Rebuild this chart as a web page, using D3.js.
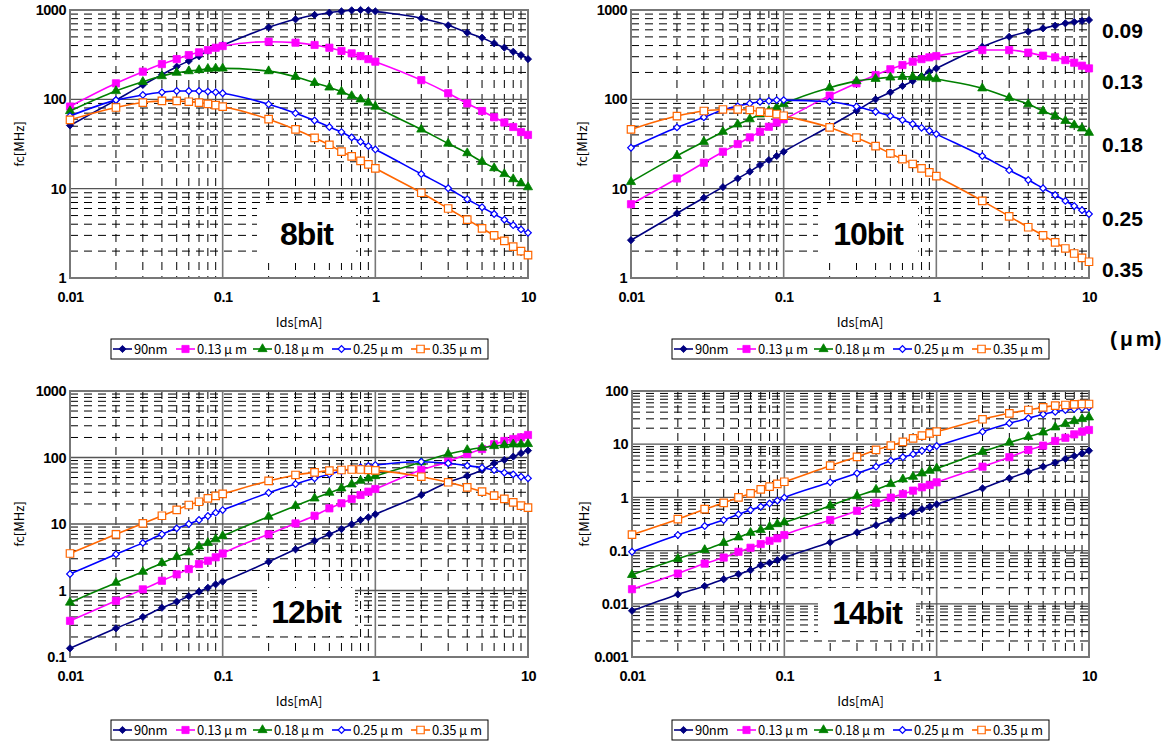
<!DOCTYPE html>
<html>
<head>
<meta charset="utf-8">
<script src="https://cdn.jsdelivr.net/npm/d3@7"></script>
<style>
  body { margin: 0; background: #fff; }
  svg { display: block; }
</style>
</head>
<body>
<svg id="chart" width="1164" height="744"></svg>
<script>
// Ids [mA] sample points (same for every panel)
const ids = [0.01, 0.02, 0.03, 0.04, 0.05, 0.06, 0.07, 0.08, 0.09,
  0.1, 0.2, 0.3, 0.4, 0.5, 0.6, 0.7, 0.8, 0.9,
  1, 2, 3, 4, 5, 6, 7, 8, 9, 10];

const seriesNames = ["90nm", "0.13\u03BCm", "0.18\u03BCm", "0.25\u03BCm", "0.35\u03BCm"];
const sideLabels = ["0.09", "0.13", "0.18", "0.25", "0.35"];
const xTickLabels = [0.01, 0.1, 1, 10];

// fc [MHz], 8bit
const fc8_90 = [51, 98, 145, 189, 232, 269, 305, 350, 378, 406, 640, 787, 880, 933, 966, 992, 1000, 992, 966, 807, 674, 557, 490, 424, 379, 341, 313, 282];
const fc8_13 = [83, 151, 204, 248, 282, 313, 336, 356, 378, 395, 442, 431, 406, 378, 348, 327, 305, 282, 264, 164, 117, 90, 74, 63, 55, 49, 43, 40];
const fc8_18 = [74, 124, 157, 182, 199, 207, 213, 220, 222, 222, 207, 179, 153, 136, 122, 109, 100, 92, 83, 46, 32, 25, 20, 17, 14.6, 12.8, 11.5, 10.4];
const fc8_25 = [65, 98, 112, 120, 124, 124, 124, 122, 120, 117, 88, 70, 58, 49, 43, 37.5, 33.5, 30, 27.5, 14.6, 10.1, 7.6, 6.2, 5.2, 4.5, 3.9, 3.5, 3.2];
const fc8_35 = [59, 81, 92, 96, 96, 94, 92, 89, 86, 83, 60, 46, 37, 31, 26, 23, 20.5, 18.7, 16.9, 9.0, 6.0, 4.5, 3.6, 3.0, 2.6, 2.25, 2.0, 1.8];

// fc [MHz], 10bit
const fc10_90 = [2.65, 5.3, 7.9, 10.4, 13, 15.5, 18.4, 20.9, 23.2, 25.9, 50, 74.5, 100, 120, 141, 160, 182, 204, 222, 388, 502, 572, 624, 667, 710, 735, 754, 773];
const fc10_13 = [6.7, 13, 19.5, 25.9, 31.6, 37.5, 43.4, 49.3, 55, 59.7, 110, 151, 187, 217, 242, 264, 282, 295, 305, 356, 356, 333, 308, 295, 275, 257, 238, 222];
const fc10_18 = [11.9, 23.3, 33.5, 43.4, 52.5, 60, 68, 74.5, 81, 88.5, 135, 160, 170, 176, 179, 179, 176, 175, 169, 133, 104, 88.5, 74, 65, 57.5, 51.5, 47.3, 42.3];
const fc10_25 = [28.7, 48.5, 63, 76, 84, 90, 94, 96, 98, 98, 94, 83, 72.6, 65, 58.6, 53, 48, 44.5, 40.8, 23.2, 16.1, 12.5, 10.1, 8.5, 7.3, 6.4, 5.75, 5.2];
const fc10_35 = [46, 65, 74, 77, 77, 76, 72.6, 70.8, 68.5, 65.5, 48.5, 37.2, 30, 24.8, 21.4, 18.9, 16.9, 15.2, 13.8, 7.3, 4.9, 3.7, 3.0, 2.5, 2.14, 1.88, 1.68, 1.52];

// fc [MHz], 12bit
const fc12_90 = [0.135, 0.27, 0.40, 0.55, 0.68, 0.82, 0.96, 1.10, 1.24, 1.36, 2.71, 4.16, 5.6, 7.0, 8.4, 9.9, 11.5, 12.6, 14.0, 27.3, 42.4, 53, 65, 82, 92, 103, 116, 127];
const fc12_13 = [0.35, 0.70, 1.04, 1.40, 1.75, 2.1, 2.5, 2.8, 3.16, 3.6, 7.0, 10.2, 13.3, 17.2, 20.5, 23.8, 27.3, 30.6, 33.6, 65, 86.5, 113, 134, 158, 177, 190, 201, 218];
const fc12_18 = [0.66, 1.31, 1.92, 2.6, 3.2, 3.75, 4.6, 5.2, 5.9, 6.6, 12.9, 18.7, 24.3, 29.6, 34.4, 39.5, 44.8, 48.6, 52.7, 85, 113, 130, 141, 149, 154, 158, 158, 160];
const fc12_25 = [1.77, 3.5, 5.2, 7.0, 8.6, 10, 11.5, 13.2, 14.8, 16.2, 29.6, 40, 48.6, 55.8, 62.7, 67.1, 71.3, 74.5, 77, 86.5, 81.8, 75.4, 70.3, 64.9, 59.2, 55.8, 51.4, 48.6];
const fc12_35 = [3.6, 7.0, 10.2, 13.3, 16.3, 19.3, 21.6, 24.3, 26.4, 28.3, 44.4, 54.6, 59.8, 63.4, 64.9, 66, 66, 65, 64, 51.4, 42.4, 35.6, 30.6, 26.7, 23.8, 21.2, 18.9, 17.6];

// fc [MHz], 14bit
const fc14_90 = [0.0074, 0.015, 0.0216, 0.029, 0.036, 0.043, 0.053, 0.059, 0.066, 0.074, 0.143, 0.22, 0.30, 0.376, 0.45, 0.52, 0.60, 0.67, 0.74, 1.48, 2.29, 3.04, 3.78, 4.5, 5.3, 6.0, 6.7, 7.55];
const fc14_13 = [0.0188, 0.037, 0.057, 0.074, 0.095, 0.113, 0.133, 0.153, 0.17, 0.196, 0.376, 0.56, 0.79, 0.99, 1.16, 1.34, 1.55, 1.71, 1.92, 3.78, 5.7, 7.8, 9.4, 11.5, 13.2, 15.3, 17.2, 18.5];
const fc14_18 = [0.035, 0.07, 0.103, 0.14, 0.178, 0.217, 0.244, 0.28, 0.316, 0.34, 0.70, 1.06, 1.40, 1.79, 2.19, 2.45, 2.84, 3.18, 3.52, 7.2, 10.7, 13.8, 16.7, 20.8, 24, 27.3, 29.8, 32];
const fc14_25 = [0.095, 0.196, 0.29, 0.375, 0.48, 0.58, 0.67, 0.77, 0.87, 0.99, 1.92, 2.84, 3.78, 4.9, 5.7, 6.5, 7.55, 8.4, 9.25, 17.2, 24.7, 30.7, 36.5, 40.8, 44, 46, 48, 50];
const fc14_35 = [0.20, 0.39, 0.60, 0.79, 1.0, 1.19, 1.42, 1.59, 1.79, 1.97, 3.95, 5.8, 7.8, 9.4, 11.1, 12.9, 14.5, 16.0, 17.2, 29.4, 38.1, 44, 49.3, 53, 54.6, 56, 57, 57];

// ---- styling ----
const colors = ["#000080", "#ff00ff", "#008000", "#0000ff", "#ff6600"];
const markers = [
  { type: d3.symbolSquare, size: 26, rotate: 45, fill: true },
  { type: d3.symbolSquare, size: 52, rotate: 0, fill: true },
  { type: d3.symbolTriangle, size: 36, rotate: 0, fill: true },
  { type: d3.symbolSquare, size: 22, rotate: 45, fill: false },
  { type: d3.symbolSquare, size: 56, rotate: 0, fill: false }
];

const panels = [
  { title: "8bit", left: 70, top: 10, w: 458, h: 268, yDomain: [1, 1000],
    series: [fc8_90, fc8_13, fc8_18, fc8_25, fc8_35],
    box: [257, 205, 356, 263], yLabelX: 19, legendX: 111, legendY: 339 },
  { title: "10bit", left: 631, top: 10, w: 458, h: 268, yDomain: [1, 1000],
    series: [fc10_90, fc10_13, fc10_18, fc10_25, fc10_35],
    box: [818, 205, 918, 263], yLabelX: 582, legendX: 672, legendY: 339 },
  { title: "12bit", left: 70, top: 391, w: 458, h: 266, yDomain: [0.1, 1000],
    series: [fc12_90, fc12_13, fc12_18, fc12_25, fc12_35],
    box: [257, 588, 355, 636], yLabelX: 19, legendX: 111, legendY: 720 },
  { title: "14bit", left: 632, top: 391, w: 457, h: 266, yDomain: [0.001, 100],
    series: [fc14_90, fc14_13, fc14_18, fc14_25, fc14_35],
    box: [818, 588, 916, 637], yLabelX: 584, legendX: 672, legendY: 720 }
];

const svg = d3.select("#chart");
const numFmt = d3.format("~g");
const isDecade = v => Math.abs(Math.log10(v) - Math.round(Math.log10(v))) < 1e-6;

// writes "0.13μm" with the wide spacing of the full-width mu
function muText(sel, str, gap) {
  const parts = str.split("\u03BC");
  sel.append("tspan").text(parts[0]);
  if (parts.length > 1) {
    sel.append("tspan").attr("dx", gap).text("\u03BC");
    sel.append("tspan").attr("dx", gap).text(parts[1]);
  }
}

function drawPanel(p) {
  const g = svg.append("g").attr("transform", "translate(" + p.left + "," + p.top + ")");

  const x = d3.scaleLog().domain([0.01, 10]).range([0, p.w]);
  const y = d3.scaleLog().domain(p.yDomain).range([p.h, 0]);

  // grid
  const xt = x.ticks(), yt = y.ticks();
  g.selectAll(".vminor").data(xt.filter(d => !isDecade(d))).enter().append("line")
    .attr("x1", d => x(d)).attr("x2", d => x(d)).attr("y1", 0).attr("y2", p.h)
    .attr("stroke", "#000").attr("stroke-width", 1).attr("stroke-dasharray", "8,6");
  g.selectAll(".hminor").data(yt.filter(d => !isDecade(d))).enter().append("line")
    .attr("y1", d => y(d)).attr("y2", d => y(d)).attr("x1", 0).attr("x2", p.w)
    .attr("stroke", "#000").attr("stroke-width", 1).attr("stroke-dasharray", "8,6");
  g.selectAll(".vmajor").data(xt.filter(isDecade)).enter().append("line")
    .attr("x1", d => x(d)).attr("x2", d => x(d)).attr("y1", 0).attr("y2", p.h)
    .attr("stroke", "#777").attr("stroke-width", 1.6);
  g.selectAll(".hmajor").data(yt.filter(isDecade)).enter().append("line")
    .attr("y1", d => y(d)).attr("y2", d => y(d)).attr("x1", 0).attr("x2", p.w)
    .attr("stroke", "#555").attr("stroke-width", 1.3);

  // title box (covers the grid)
  g.append("rect")
    .attr("x", p.box[0] - p.left).attr("y", p.box[1] - p.top)
    .attr("width", p.box[2] - p.box[0]).attr("height", p.box[3] - p.box[1])
    .attr("fill", "#fff");
  g.append("text")
    .attr("x", (p.box[0] + p.box[2]) / 2 - p.left)
    .attr("y", (p.box[1] + p.box[3]) / 2 - p.top + 11)
    .attr("text-anchor", "middle")
    .attr("font-family", "Liberation Sans, Arial, sans-serif")
    .attr("font-weight", "bold").attr("font-size", 32).attr("letter-spacing", -1)
    .text(p.title);

  // frame
  g.append("rect").attr("width", p.w).attr("height", p.h)
    .attr("fill", "none").attr("stroke", "#777").attr("stroke-width", 2);

  // series
  const line = d3.line().x(d => x(d[0])).y(d => y(d[1])).curve(d3.curveMonotoneX);
  p.series.forEach((vals, i) => {
    const pts = ids.map((v, k) => [v, vals[k]]);
    g.append("path").datum(pts).attr("d", line)
      .attr("fill", "none").attr("stroke", colors[i]).attr("stroke-width", 1.6);
    const m = markers[i];
    g.selectAll(".m" + i).data(pts).enter().append("path")
      .attr("d", d3.symbol().type(m.type).size(m.size)())
      .attr("transform", d => "translate(" + x(d[0]) + "," + y(d[1]) + ") rotate(" + m.rotate + ")")
      .attr("fill", m.fill ? colors[i] : "#fff")
      .attr("stroke", colors[i]).attr("stroke-width", m.fill ? 0.8 : 1.2);
  });

  // axes
  const xAxis = g.append("g").attr("transform", "translate(0," + p.h + ")")
    .call(d3.axisBottom(x).tickValues(xTickLabels).tickFormat(numFmt).tickSize(0).tickPadding(14));
  const yAxis = g.append("g")
    .call(d3.axisLeft(y).tickValues(yt.filter(isDecade)).tickFormat(numFmt).tickSize(0).tickPadding(4));
  [xAxis, yAxis].forEach(a => {
    a.select(".domain").remove();
    a.selectAll("text")
      .attr("font-family", "Liberation Sans, Arial, sans-serif")
      .attr("font-size", 14.5).attr("font-weight", "bold").attr("fill", "#000")
      .attr("letter-spacing", -0.5);
  });

  // axis titles
  g.append("text")
    .attr("x", p.w / 2).attr("y", p.h + 49)
    .attr("text-anchor", "middle")
    .attr("font-family", "Noto Sans CJK JP, sans-serif").attr("font-size", 13)
    .text("Ids[mA]");
  svg.append("text")
    .attr("transform", "translate(" + p.yLabelX + "," + (p.top + p.h / 2) + ") rotate(-90)")
    .attr("text-anchor", "middle").attr("dy", "0.35em")
    .attr("font-family", "Noto Sans CJK JP, sans-serif").attr("font-size", 13)
    .text("fc[MHz]");

  // legend
  const lg = svg.append("g").attr("transform", "translate(" + p.legendX + "," + p.legendY + ")");
  lg.append("rect").attr("width", 377).attr("height", 20)
    .attr("fill", "#fff").attr("stroke", "#000").attr("stroke-width", 1);
  const entryX = [2, 65, 142, 221, 300];
  seriesNames.forEach((name, i) => {
    const eg = lg.append("g").attr("transform", "translate(" + entryX[i] + ",10)");
    eg.append("line").attr("x1", 0).attr("x2", 19)
      .attr("stroke", colors[i]).attr("stroke-width", 1.6);
    const m = markers[i];
    eg.append("path")
      .attr("d", d3.symbol().type(m.type).size(m.size)())
      .attr("transform", "translate(9.5,0) rotate(" + m.rotate + ")")
      .attr("fill", m.fill ? colors[i] : "#fff")
      .attr("stroke", colors[i]).attr("stroke-width", m.fill ? 0.8 : 1.2);
    const t = eg.append("text").attr("x", 21).attr("y", 5)
      .attr("font-family", "Noto Sans CJK JP, sans-serif").attr("font-size", 13)
      .attr("letter-spacing", -0.3);
    muText(t, name, 3);
  });
}

panels.forEach(drawPanel);

// technology labels on the right of the 10bit panel
const sideY = [30, 81, 144, 218, 269];
svg.selectAll(".side").data(sideLabels).enter().append("text")
  .attr("x", 1102).attr("y", (d, i) => sideY[i] + 8)
  .attr("font-family", "Liberation Sans, Arial, sans-serif")
  .attr("font-weight", "bold").attr("font-size", 21)
  .text(d => d);
const unit = svg.append("text")
  .attr("x", 1110).attr("y", 346)
  .attr("font-family", "Liberation Sans, Arial, sans-serif")
  .attr("font-weight", "bold").attr("font-size", 21);
muText(unit, "(\u03BCm)", 3);
</script>
</body>
</html>
